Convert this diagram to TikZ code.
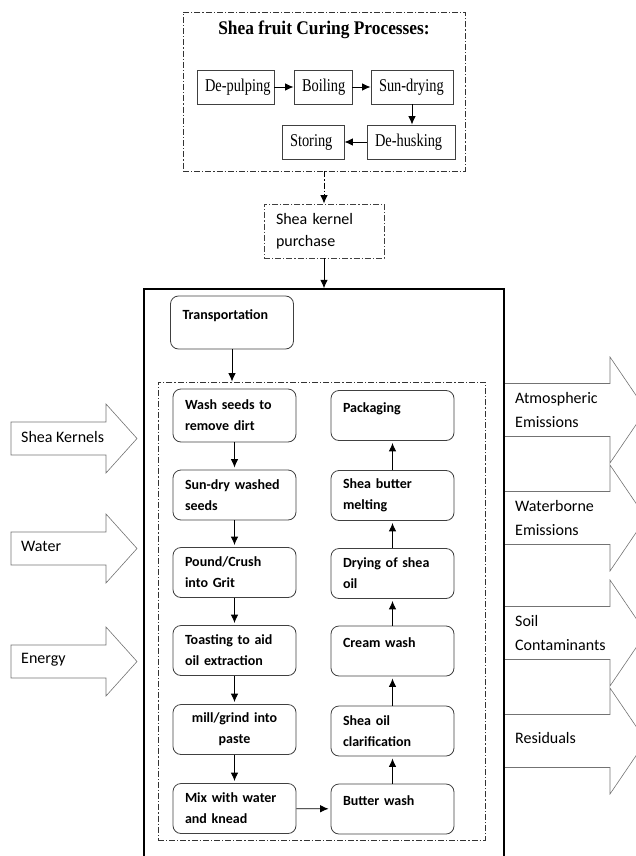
\documentclass[tikz,border=0pt]{standalone}
\usepackage{fontspec}
\setmainfont{Carlito}
\newfontfamily\timesfont{Liberation Serif}
\usepackage{graphicx}
\usepackage{tikz}
\usetikzlibrary{arrows.meta,fit}
\newcommand{\curetext}[2][0.8]{\scalebox{#1}[1]{#2}}
\tikzset{
  dashdot/.style={dash pattern=on 6pt off 2pt on 1.2pt off 2pt},
  curebox/.style={draw=black!75, line width=0.8pt, minimum height=34pt, inner xsep=8pt,
    text width=#1, align=left, font=\timesfont\fontsize{18}{20}\selectfont},
  stepbox/.style={draw=black!75, line width=0.8pt, rounded corners=8pt, minimum height=50pt,
    text width=99pt, inner xsep=12pt, align=left, font=\fontsize{14}{21}\selectfont\bfseries},
  oneline/.style={text height=10pt, text depth=17pt},
  flow/.style={->, line width=0.9pt, shorten >=2pt},
  blockarrow/.style={draw=black!55, line width=0.6pt},
  sidetext/.style={anchor=west, align=left, inner sep=0pt, font=\fontsize{16}{24}\selectfont}
}

\begin{document}
\begin{tikzpicture}[x=1pt, y=-1pt, >={Latex[length=8.5pt,width=7.5pt]}]
  \useasboundingbox (0,0) rectangle (636,856);

  % curing of the fruit
  \node[fit={(183,12) (465,171)}, inner sep=0pt, draw=black!80, line width=0.9pt, dashdot] (curing) {};
  \node[font=\timesfont\fontsize{19.3}{22}\selectfont\bfseries] (title) at (324,30)
    {\curetext[0.9]{Shea fruit Curing Processes:}};
  \node[curebox=61pt] (pulp) at (235.5,87) {\curetext{De-pulping}};
  \node[curebox=42pt] (boil) at (323,87) {\curetext{Boiling}};
  \node[curebox=66pt] (sun) at (412,87) {\curetext{Sun-drying}};
  \node[curebox=72pt] (husk) at (411,142) {\curetext{De-husking}};
  \node[curebox=46pt] (store) at (313,142) {\curetext{Storing}};
  \draw[->, line width=0.9pt] (pulp) -- (boil);
  \draw[->, line width=0.9pt] (boil) -- (sun);
  \draw[->, line width=0.9pt] (sun.south) -- (sun.south |- husk.north);
  \draw[->, line width=0.9pt] (husk) -- (store);

  \node[draw=black!75, line width=0.8pt, dashdot, text width=96pt, inner xsep=12pt, minimum height=54pt,
    align=left, font=\fontsize{16}{22}\selectfont] (purchase) at (324,231) {Shea kernel\\purchase};
  \draw[->, line width=0.9pt, dashdot] (curing.south) -- (purchase.north);

  % processing plant
  \node[fit={(144,289) (504,880)}, inner sep=0pt, draw, line width=1.3pt] (plant) {};
  \draw[->, line width=0.9pt] (purchase.south) -- (plant.north);
  \node[stepbox, oneline, minimum height=53pt] (transport) at (232,322.5) {Transportation};
  \node[fit={(158,382) (485,840)}, inner sep=0pt, draw=black!80, line width=0.8pt, dashdot] (line) {};
  \draw[->, line width=0.9pt] (transport.south) -- (transport.south |- line.north);

  \node[stepbox, minimum height=53pt] (wash) at (234.5,415.5) {Wash seeds to\\remove dirt};
  \node[stepbox] (sundry) at (234.5,495) {Sun-dry washed\\seeds};
  \node[stepbox] (pound) at (234.5,572.5) {Pound/Crush\\into Grit};
  \node[stepbox] (toast) at (234.5,650.5) {Toasting to aid\\oil extraction};
  \node[stepbox, align=center] (mill) at (234.5,729.5) {mill/grind into\\paste};
  \node[stepbox] (mix) at (234.5,808.5) {Mix with water\\and knead};

  \node[stepbox, oneline] (pack) at (392.5,415.5) {Packaging};
  \node[stepbox] (melt) at (392.5,495.5) {Shea butter\\melting};
  \node[stepbox] (dryoil) at (392.5,573.5) {Drying of shea\\oil};
  \node[stepbox, oneline] (cream) at (392.5,651) {Cream wash};
  \node[stepbox] (clarify) at (392.5,731) {Shea oil\\clarification};
  \node[stepbox, oneline] (butter) at (392.5,809) {Butter wash};

  \draw[flow] (wash) -- (sundry);
  \draw[flow] (sundry) -- (pound);
  \draw[flow] (pound) -- (toast);
  \draw[flow] (toast) -- (mill);
  \draw[flow] (mill) -- (mix);
  \draw[flow] (mix) -- (butter);
  \draw[flow] (butter) -- (clarify);
  \draw[flow] (clarify) -- (cream);
  \draw[flow] (cream) -- (dryoil);
  \draw[flow] (dryoil) -- (melt);
  \draw[flow] (melt) -- (pack);

  % inputs
  \draw[blockarrow] (11,422) -- (106,422) -- (106,404) -- (137,438.5) -- (106,473) -- (106,455) -- (11,455) -- cycle;
  \node[sidetext] (kernels) at (21,437) {Shea Kernels};
  \draw[blockarrow] (11,532) -- (106,532) -- (106,514) -- (137,548.5) -- (106,583) -- (106,565) -- (11,565) -- cycle;
  \node[sidetext] (water) at (21,546.5) {Water};
  \draw[blockarrow] (11,645) -- (106,645) -- (106,627) -- (137,661.5) -- (106,696) -- (106,678) -- (11,678) -- cycle;
  \node[sidetext] (energy) at (21,659.5) {Energy};

  % outputs
  \draw[blockarrow] (505,383.5) -- (610,383.5) -- (610,357) -- (646,410) -- (610,463) -- (610,436.5) -- (505,436.5);
  \node[sidetext] (atmos) at (515,410) {Atmospheric\\Emissions};
  \draw[blockarrow] (505,491.5) -- (610,491.5) -- (610,465) -- (646,518) -- (610,571) -- (610,544.5) -- (505,544.5);
  \node[sidetext] (waterborne) at (515,518) {Waterborne\\Emissions};
  \draw[blockarrow] (505,606.5) -- (610,606.5) -- (610,580) -- (646,633) -- (610,686) -- (610,659.5) -- (505,659.5);
  \node[sidetext] (soil) at (515,633) {Soil\\Contaminants};
  \draw[blockarrow] (505,714.5) -- (610,714.5) -- (610,688) -- (646,741) -- (610,794) -- (610,767.5) -- (505,767.5);
  \node[sidetext] (residuals) at (515,738) {Residuals};
\end{tikzpicture}
\end{document}
